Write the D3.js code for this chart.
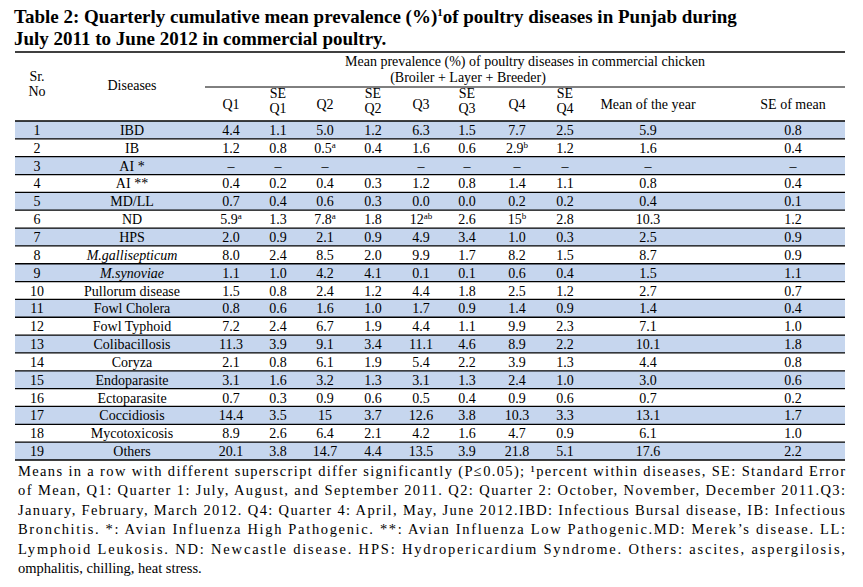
<!DOCTYPE html>
<html><head><meta charset="utf-8">
<script src="https://cdn.jsdelivr.net/npm/d3@7"></script>
<style>body{margin:0;background:#fff}svg{font-family:"Liberation Serif","DejaVu Serif",serif}</style>
</head><body><div id="c"></div>
<script>
var diseases = ["IBD","IB","AI *","AI **","MD/LL","ND","HPS","M.gallisepticum","M.synoviae","Pullorum disease","Fowl Cholera","Fowl Typhoid","Colibacillosis","Coryza","Endoparasite","Ectoparasite","Coccidiosis","Mycotoxicosis","Others"];
var q1   = ["4.4","1.2",null,"0.4","0.7","5.9","2.0","8.0","1.1","1.5","0.8","7.2","11.3","2.1","3.1","0.7","14.4","8.9","20.1"];
var seQ1 = ["1.1","0.8",null,"0.2","0.4","1.3","0.9","2.4","1.0","0.8","0.6","2.4","3.9","0.8","1.6","0.3","3.5","2.6","3.8"];
var q2   = ["5.0","0.5",null,"0.4","0.6","7.8","2.1","8.5","4.2","2.4","1.6","6.7","9.1","6.1","3.2","0.9","15","6.4","14.7"];
var seQ2 = ["1.2","0.4","","0.3","0.3","1.8","0.9","2.0","4.1","1.2","1.0","1.9","3.4","1.9","1.3","0.6","3.7","2.1","4.4"];
var q3   = ["6.3","1.6",null,"1.2","0.0","12","4.9","9.9","0.1","4.4","1.7","4.4","11.1","5.4","3.1","0.5","12.6","4.2","13.5"];
var seQ3 = ["1.5","0.6",null,"0.8","0.0","2.6","3.4","1.7","0.1","1.8","0.9","1.1","4.6","2.2","1.3","0.4","3.8","1.6","3.9"];
var q4   = ["7.7","2.9",null,"1.4","0.2","15","1.0","8.2","0.6","2.5","1.4","9.9","8.9","3.9","2.4","0.9","10.3","4.7","21.8"];
var seQ4 = ["2.5","1.2",null,"1.1","0.2","2.8","0.3","1.5","0.4","1.2","0.9","2.3","2.2","1.3","1.0","0.6","3.3","0.9","5.1"];
var meanYear = ["5.9","1.6",null,"0.8","0.4","10.3","2.5","8.7","1.5","2.7","1.4","7.1","10.1","4.4","3.0","0.7","13.1","6.1","17.6"];
var seMean   = ["0.8","0.4",null,"0.4","0.1","1.2","0.9","0.9","1.1","0.7","0.4","1.0","1.8","0.8","0.6","0.2","1.7","1.0","2.2"];
// superscripts: {column, row index, letter}
var superscripts = [["q2",1,"a"],["q4",1,"b"],["q1",5,"a"],["q2",5,"a"],["q3",5,"ab"],["q4",5,"b"]];
var columns = ["sr","dis","q1","seQ1","q2","seQ2","q3","seQ3","q4","seQ4","mean","seMean"];
var headers = [["Sr.","No"],["Diseases"],["Q1"],["SE","Q1"],["Q2"],["SE","Q2"],["Q3"],["SE","Q3"],["Q4"],["SE","Q4"],["Mean of the year"],["SE of mean"]];
var footnote = ["Means in a row with different superscript differ significantly (P\u22640.05); \u00b9percent within diseases, SE: Standard Error",
 "of Mean, Q1: Quarter 1: July, August, and September 2011. Q2: Quarter 2: October, November, December 2011.Q3:",
 "January, February, March 2012. Q4: Quarter 4: April, May, June 2012.IBD: Infectious Bursal disease, IB: Infectious",
 "Bronchitis. *: Avian Influenza High Pathogenic. **: Avian Influenza Low Pathogenic.MD: Merek\u2019s disease. LL:",
 "Lymphoid Leukosis. ND: Newcastle disease. HPS: Hydropericardium Syndrome. Others: ascites, aspergilosis,",
 "omphalitis, chilling, heat stress."];

var W = 863, H = 587, L = 15, R = 845;
var svg = d3.select("#c").append("svg").attr("width", W).attr("height", H);
var x = d3.scaleOrdinal().domain(columns).range([37,132,231,278,325,373,421,467,517,565,648,793]);
var y = d3.scaleBand().domain(d3.range(19)).range([121, 460]);

svg.append("text").attr("x", 14).attr("y", 23).attr("font-size", 19).attr("font-weight", "bold")
  .text("Table 2: Quarterly cumulative mean prevalence (%)").append("tspan").attr("font-size", 11).attr("dy", -7).text("1")
  .select(function(){return this.parentNode;}).append("tspan").attr("dy", 7).text("of poultry diseases in Punjab during");
svg.append("text").attr("x", 14).attr("y", 45).attr("font-size", 19).attr("font-weight", "bold")
  .text("July 2011 to June 2012 in commercial poultry.");

// row bands
svg.selectAll("rect.band").data(d3.range(19).filter(function(i){return i % 2 === 0;})).enter().append("rect")
  .attr("x", L).attr("width", R - L).attr("y", function(i){return y(i);}).attr("height", y.bandwidth()).attr("fill", "#c6d6ee");
svg.selectAll("line.row").data(d3.range(20)).enter().append("line")
  .attr("x1", L).attr("x2", R).attr("y1", function(i){return i < 19 ? y(i) : 460;}).attr("y2", function(i){return i < 19 ? y(i) : 460;})
  .attr("stroke", "#000").attr("stroke-width", 1.3);
svg.append("line").attr("x1", L).attr("x2", R).attr("y1", 52).attr("y2", 52).attr("stroke", "#000").attr("stroke-width", 1.3);
svg.append("line").attr("x1", 205).attr("x2", R).attr("y1", 87).attr("y2", 87).attr("stroke", "#000").attr("stroke-width", 1);

svg.append("text").attr("x", 525).attr("y", 66).attr("text-anchor", "middle").attr("font-size", 14).text("Mean prevalence (%) of poultry diseases in commercial chicken");
svg.append("text").attr("x", 468).attr("y", 82).attr("text-anchor", "middle").attr("font-size", 14).text("(Broiler + Layer + Breeder)");

headers.forEach(function(h, i){
  var top = i < 2 ? (h.length === 2 ? 81 : 90) : (h.length === 2 ? 98 : 109);
  h.forEach(function(t, j){
    svg.append("text").attr("x", x(columns[i])).attr("y", top + j * 15).attr("text-anchor", "middle").attr("font-size", 14).text(t);
  });
});

var colData = {q1:q1, seQ1:seQ1, q2:q2, seQ2:seQ2, q3:q3, seQ3:seQ3, q4:q4, seQ4:seQ4, mean:meanYear, seMean:seMean};
diseases.forEach(function(d, r){
  var cy = y(r) + y.bandwidth() / 2 + 5;
  svg.append("text").attr("x", x("sr")).attr("y", cy).attr("text-anchor", "middle").attr("font-size", 14).text(r + 1);
  svg.append("text").attr("x", x("dis")).attr("y", cy).attr("text-anchor", "middle").attr("font-size", 14)
    .attr("font-style", r === 7 || r === 8 ? "italic" : null).text(d);
  columns.slice(2).forEach(function(c){
    var v = colData[c][r];
    if (v === "") return;
    var t = svg.append("text").attr("x", x(c)).attr("y", cy).attr("text-anchor", "middle").attr("font-size", 14).text(v === null ? "\u2013" : v);
    superscripts.forEach(function(s){
      if (s[0] === c && s[1] === r) t.append("tspan").attr("font-size", 9).attr("dy", -5).text(s[2]);
    });
  });
});

footnote.forEach(function(line, i){
  var t = svg.append("text").attr("x", 18).attr("y", 476 + i * 19.4).attr("font-size", 14.5).text(line);
  if (i < footnote.length - 1) t.attr("textLength", 827).attr("lengthAdjust", "spacing");
});
</script></body></html>
